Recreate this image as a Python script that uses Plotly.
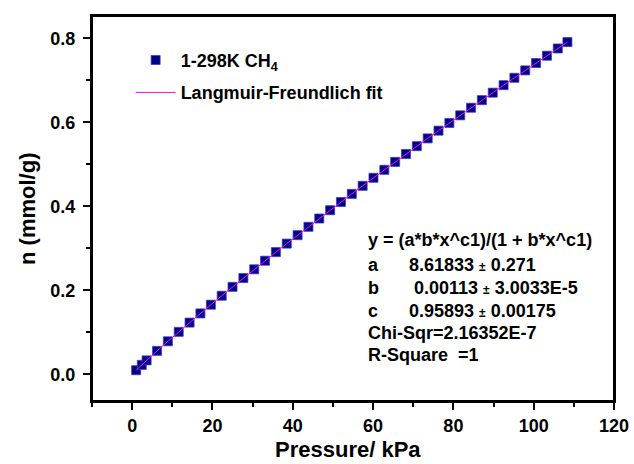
import plotly.graph_objects as go

pressure = [1.0, 2.4, 3.6, 6.2, 8.9, 11.6, 14.3, 17.0, 19.6, 22.3, 25.0, 27.7, 30.4, 33.1,
            35.8, 38.5, 41.2, 43.9, 46.6, 49.3, 52.0, 54.7, 57.4, 60.1, 62.8, 65.5, 68.2,
            70.9, 73.6, 76.3, 79.0, 81.7, 84.4, 87.1, 89.8, 92.5, 95.2, 97.9, 100.6, 103.3,
            106.0, 108.4]
uptake = [0.0097, 0.0225, 0.0331, 0.0557, 0.0785, 0.1010, 0.1231, 0.1449, 0.1657, 0.1870,
          0.2082, 0.2291, 0.2499, 0.2704, 0.2909, 0.3111, 0.3312, 0.3511, 0.3709, 0.3906,
          0.4101, 0.4295, 0.4487, 0.4678, 0.4868, 0.5057, 0.5245, 0.5431, 0.5616, 0.5800,
          0.5984, 0.6165, 0.6346, 0.6526, 0.6705, 0.6883, 0.7059, 0.7235, 0.7410, 0.7584,
          0.7757, 0.7909]

x_ticks = [0, 20, 40, 60, 80, 100, 120]
y_ticks = [0.0, 0.2, 0.4, 0.6, 0.8]
y_tick_labels = ["0.0", "0.2", "0.4", "0.6", "0.8"]

PM = "<span style='font-size:12px'>±</span>"
fit_lines = [
    ("y = (a*b*x^c1)/(1 + b*x^c1)", None),
    ("a", "8.61833 " + PM + " 0.271"),
    ("b", " 0.00113 " + PM + " 3.0033E-5"),
    ("c", "0.95893 " + PM + " 0.00175"),
    ("Chi-Sqr=2.16352E-7", None),
    ("R-Square  =1", None),
]

FONT = "Liberation Sans, Arial, sans-serif"

fig = go.Figure()
fig.add_trace(go.Scatter(
    x=pressure, y=uptake, mode="markers", name="<b>1-298K CH<sub>4</sub></b>",
    legendgroup="a",
    marker=dict(symbol="square", size=9, color="#000080",
                line=dict(color="#3a3ad0", width=0.8)),
))
fig.add_trace(go.Scatter(
    x=pressure, y=uptake, mode="lines", name="<b>Langmuir-Freundlich fit</b>",
    legendgroup="b",
    line=dict(color="#ff00ff", width=1),
))

axis_common = dict(
    showline=True, linecolor="black", linewidth=2, mirror=True,
    ticks="outside", ticklen=7, tickwidth=2, tickcolor="black",
    showgrid=False, zeroline=False, automargin=False,
    tickfont=dict(family=FONT, size=18, color="black", weight="bold"),
)

fig.update_xaxes(
    range=[-10, 120], tickvals=x_ticks,
    minor=dict(dtick=10, ticks="outside", ticklen=4, tickwidth=2, tickcolor="black", tick0=0),
    **axis_common,
)
fig.update_yaxes(
    range=[-0.0636, 0.853], tickvals=y_ticks, ticktext=y_tick_labels,
    ticklabelstandoff=4,
    minor=dict(dtick=0.1, ticks="outside", ticklen=4, tickwidth=2, tickcolor="black", tick0=0),
    **axis_common,
)

ys = [0.3198, 0.2600, 0.2057, 0.1507, 0.0983, 0.0460]
annos = []
for (label, value), yv in zip(fit_lines, ys):
    annos.append(dict(x=58.2, y=yv, xref="x", yref="y", text="<b>" + label + "</b>",
                      showarrow=False, xanchor="left", yanchor="middle",
                      font=dict(family=FONT, size=18, color="black")))
    if value is not None:
        annos.append(dict(x=68.4, y=yv, xref="x", yref="y", text="<b>" + value + "</b>",
                          showarrow=False, xanchor="left", yanchor="middle",
                          font=dict(family=FONT, size=18, color="black")))

annos.append(dict(x=0.49, y=-0.127, xref="paper", yref="paper", text="<b>Pressure/ kPa</b>",
                  showarrow=False, xanchor="center", yanchor="middle",
                  font=dict(family=FONT, size=22, color="black")))
annos.append(dict(x=-0.1237, y=0.50, xref="paper", yref="paper", text="<b>n (mmol/g)</b>",
                  showarrow=False, xanchor="center", yanchor="middle", textangle=-90,
                  font=dict(family=FONT, size=22, color="black")))

fig.update_layout(
    width=634, height=464,
    margin=dict(l=92, r=20, t=16, b=63, autoexpand=False),
    paper_bgcolor="white", plot_bgcolor="white",
    font=dict(family=FONT, color="black"),
    showlegend=True,
    legend=dict(x=0.074, y=0.933, xanchor="left", yanchor="top",
                bgcolor="rgba(0,0,0,0)", borderwidth=0,
                font=dict(family=FONT, size=18, color="black"),
                tracegroupgap=6, itemwidth=40, traceorder="grouped"),
    annotations=annos,
    shapes=[dict(type="rect", xref="paper", yref="paper", x0=0, y0=0, x1=1, y1=1,
                 line=dict(color="black", width=2), layer="above")],
)

fig.write_html(
    "out.html",
    config={"displayModeBar": False},
    post_script="document.body.style.margin='0';document.body.style.overflow='hidden';",
)
